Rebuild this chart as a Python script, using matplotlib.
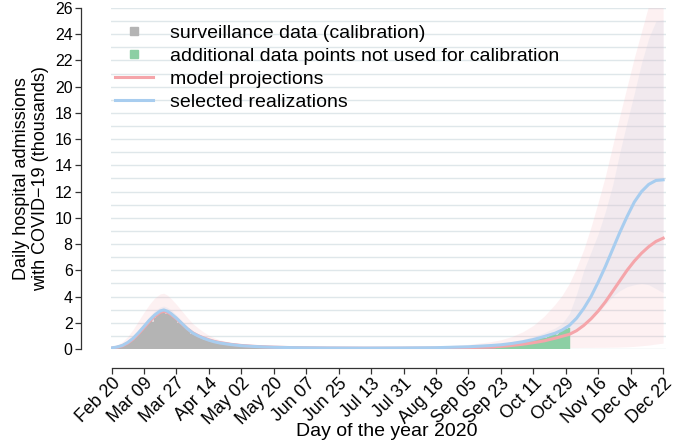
import matplotlib
matplotlib.use("Agg")
import matplotlib.pyplot as plt
import matplotlib.dates as mdates
from matplotlib.lines import Line2D
from matplotlib.ticker import MultipleLocator
import pandas as pd

plt.rcParams['font.family'] = ['Liberation Sans', 'DejaVu Sans']

start = pd.Timestamp('2020-02-20')

# model curves, read every few days (day offset from Feb 20)
curve_day = [0, 3, 6, 9, 12, 15, 18, 21, 24, 27, 29, 31, 33, 36, 39, 42, 45, 48, 51, 54,
             57, 60, 66, 72, 78, 84, 90, 102, 120, 140, 160, 180, 198, 210, 216, 222, 228, 234, 240, 246,
             250, 254, 258, 262, 266, 270, 274, 278, 282, 286, 290, 294, 298, 302, 306]
realization = [0.08, 0.15, 0.27, 0.5, 0.82, 1.25, 1.72, 2.2, 2.6, 2.9,
               2.98, 2.88, 2.7, 2.35, 1.95, 1.55, 1.22, 1.0, 0.82, 0.67,
               0.55, 0.46, 0.34, 0.25, 0.2, 0.16, 0.13, 0.1, 0.08, 0.07,
               0.08, 0.1, 0.17, 0.26, 0.32, 0.42, 0.55, 0.72, 0.95, 1.2,
               1.45, 1.8, 2.35, 3.1, 4.0, 5.1, 6.3, 7.6, 8.9, 10.1,
               11.2, 12.0, 12.55, 12.85, 12.9]
projection = [0.07, 0.13, 0.24, 0.45, 0.76, 1.17, 1.63, 2.1, 2.5, 2.8,
              2.88, 2.8, 2.63, 2.3, 1.92, 1.55, 1.24, 1.02, 0.85, 0.7,
              0.58, 0.49, 0.36, 0.27, 0.21, 0.17, 0.14, 0.1, 0.07, 0.06,
              0.06, 0.07, 0.11, 0.16, 0.2, 0.27, 0.36, 0.48, 0.62, 0.82,
              0.97, 1.12, 1.4, 1.8, 2.3, 2.9, 3.6, 4.4, 5.2, 6.0,
              6.7, 7.3, 7.8, 8.2, 8.45]
proj_high = [0.15, 0.3, 0.55, 0.95, 1.5, 2.15, 2.8, 3.4, 3.9, 4.2,
             4.25, 4.1, 3.85, 3.4, 2.9, 2.4, 1.95, 1.6, 1.3, 1.05,
             0.85, 0.7, 0.5, 0.36, 0.28, 0.22, 0.18, 0.14, 0.12, 0.12,
             0.14, 0.2, 0.35, 0.55, 0.7, 0.95, 1.3, 1.8, 2.5, 3.4,
             4.1, 5.0, 6.2, 7.6, 9.3, 11.2, 13.2, 15.5, 17.8, 20.0,
             22.2, 24.2, 26.2, 28.0, 29.5]
proj_low = [0.02, 0.04, 0.08, 0.15, 0.28, 0.45, 0.68, 0.9, 1.1, 1.25,
            1.3, 1.28, 1.2, 1.05, 0.88, 0.7, 0.56, 0.45, 0.37, 0.3,
            0.25, 0.21, 0.15, 0.11, 0.08, 0.06, 0.05, 0.03, 0.02, 0.02,
            0.02, 0.02, 0.03, 0.04, 0.05, 0.06, 0.07, 0.08, 0.09, 0.1,
            0.1, 0.11, 0.11, 0.12, 0.12, 0.13, 0.13, 0.14, 0.15, 0.17,
            0.2, 0.25, 0.3, 0.38, 0.45]
real_high = [0.1, 0.18, 0.32, 0.58, 0.95, 1.42, 1.95, 2.48, 2.9, 3.2,
             3.28, 3.17, 2.98, 2.6, 2.16, 1.72, 1.36, 1.12, 0.92, 0.75,
             0.62, 0.52, 0.38, 0.28, 0.22, 0.18, 0.15, 0.12, 0.1, 0.09,
             0.1, 0.13, 0.22, 0.34, 0.42, 0.55, 0.72, 0.95, 1.25, 1.6,
             1.95, 2.7, 4.2, 6.0, 7.4, 8.8, 10.5, 12.5, 15.0, 17.3,
             19.5, 21.8, 23.7, 25.0, 25.1]
real_low = [0.06, 0.12, 0.22, 0.42, 0.7, 1.08, 1.5, 1.93, 2.3, 2.6,
            2.68, 2.59, 2.42, 2.1, 1.75, 1.38, 1.08, 0.88, 0.72, 0.59,
            0.48, 0.4, 0.3, 0.22, 0.18, 0.14, 0.11, 0.08, 0.06, 0.05,
            0.06, 0.07, 0.12, 0.18, 0.22, 0.3, 0.4, 0.52, 0.68, 0.85,
            1.0, 1.3, 1.6, 1.95, 2.3, 2.8, 3.4, 4.0, 4.45, 4.75,
            4.9, 5.0, 4.9, 4.6, 4.3]

# daily surveillance data (thousands), calibration part starts Feb 22
surv_feb = [0.1, 0.12, 0.15, 0.18, 0.22, 0.28, 0.35, 0.42]
surv_mar = [0.5, 0.6, 0.72, 0.85, 0.98, 1.12, 1.28, 1.45, 1.6, 1.75, 1.9, 2.05, 2.2, 2.05, 2.4, 2.55,
            2.65, 2.75, 2.85, 2.9, 2.65, 2.75, 2.8, 2.65, 2.55, 2.45, 2.3, 2.0, 2.05, 1.9, 1.75]
surv_apr = [1.62, 1.5, 1.4, 1.18, 1.15, 1.12, 1.05, 0.97, 0.9, 0.84, 0.72, 0.72, 0.7, 0.65, 0.6,
            0.56, 0.52, 0.45, 0.45, 0.44, 0.42, 0.4, 0.38, 0.36, 0.31, 0.31, 0.32, 0.3, 0.29, 0.28]
surv_may = [0.27, 0.23, 0.23, 0.25, 0.24, 0.23, 0.22, 0.21, 0.18, 0.18, 0.2, 0.19, 0.18, 0.17, 0.16, 0.14,
            0.14, 0.15, 0.14, 0.14, 0.13, 0.13, 0.11, 0.11, 0.12, 0.12, 0.11, 0.11, 0.1, 0.09, 0.09]
surv_jun = [0.1, 0.1, 0.09, 0.09, 0.09, 0.08, 0.08, 0.09, 0.09, 0.08, 0.08, 0.08, 0.07, 0.07, 0.08,
            0.08, 0.08, 0.07, 0.07, 0.07, 0.06, 0.07, 0.07, 0.07, 0.07, 0.06, 0.06, 0.06, 0.07, 0.07]
surv_jul = [0.07, 0.07, 0.06, 0.06, 0.06, 0.07, 0.07, 0.07, 0.07, 0.06, 0.06, 0.07, 0.07, 0.07, 0.07, 0.07,
            0.06, 0.06, 0.07, 0.07, 0.07, 0.07, 0.07, 0.06, 0.06, 0.07, 0.07, 0.07, 0.08, 0.08, 0.07]
surv_aug = [0.07, 0.07, 0.08, 0.08, 0.08, 0.08, 0.08, 0.07, 0.07, 0.08, 0.08, 0.09, 0.09, 0.09, 0.08, 0.08,
            0.09, 0.09, 0.09, 0.1, 0.1, 0.09, 0.09, 0.1, 0.1, 0.11, 0.11, 0.11, 0.1, 0.1, 0.11]
surv_sep = [0.12, 0.12, 0.13, 0.13, 0.12, 0.12, 0.14, 0.15, 0.15, 0.16, 0.16, 0.15, 0.15, 0.18, 0.19,
            0.2, 0.21, 0.21, 0.2, 0.21]
# additional points, Sep 21 - Oct 31
extra = [0.28, 0.27, 0.3, 0.32, 0.33, 0.31, 0.31, 0.37, 0.4, 0.42,
         0.44, 0.45, 0.42, 0.42, 0.5, 0.55, 0.58, 0.6, 0.62, 0.6,
         0.6, 0.68, 0.75, 0.8, 0.82, 0.85, 0.82, 0.85, 0.95, 1.02,
         1.08, 1.12, 1.15, 1.1, 1.12, 1.28, 1.38, 1.45, 1.5, 1.55, 1.6]

surv = surv_feb + surv_mar + surv_apr + surv_may + surv_jun + surv_jul + surv_aug + surv_sep
surv_dates = pd.date_range('2020-02-22', periods=len(surv), freq='D')
extra_dates = pd.date_range('2020-09-21', periods=len(extra), freq='D')
curve_dates = start + pd.to_timedelta(curve_day, unit='D')
tick_dates = pd.date_range('2020-02-20', '2020-12-22', freq='18D')

c_grey = '#b4b4b4'
c_green = '#8ccfa4'
c_red = '#f5a5aa'
c_blue = '#a8cdef'

fig = plt.figure(figsize=(6.77, 4.44), dpi=100)
ax = fig.add_axes([111 / 677, 95 / 444, 555 / 677, 341 / 444])

ax.fill_between(curve_dates, proj_low, proj_high, color='#f8a8b0', alpha=0.16, linewidth=0)
ax.fill_between(curve_dates, real_low, real_high, color='#c8d0e4', alpha=0.22, linewidth=0)
ax.bar(surv_dates, surv, width=1.0, color=c_grey, linewidth=0.3, edgecolor=c_grey)
ax.bar(extra_dates, extra, width=1.0, color=c_green, linewidth=0.3, edgecolor=c_green)
ax.plot(curve_dates, projection, color=c_red, lw=2.2)
ax.plot(curve_dates, realization, color=c_blue, lw=2.2)

ax.set_xlim(start - pd.Timedelta(days=0.3), start + pd.Timedelta(days=307.6))
ax.set_ylim(0, 26)
ax.set_xticks(tick_dates)
ax.xaxis.set_major_formatter(mdates.DateFormatter('%b %d'))
ax.yaxis.set_major_locator(MultipleLocator(2))
ax.yaxis.set_minor_locator(MultipleLocator(1))
ax.grid(axis='y', which='both', color='#dfe7ea', lw=1.0)
ax.set_axisbelow(True)

for s in ['top', 'right']:
    ax.spines[s].set_visible(False)
ax.spines['left'].set_position(('outward', 21.6))
ax.spines['bottom'].set_position(('outward', 13.7))
ax.spines['left'].set_bounds(0, 26)
ax.spines['bottom'].set_bounds(mdates.date2num(tick_dates[0]), mdates.date2num(tick_dates[-1]))
for s in ['left', 'bottom']:
    ax.spines[s].set_color('#333333')
    ax.spines[s].set_linewidth(0.9)
ax.tick_params(axis='y', which='major', length=4, width=0.9, color='#333333', labelsize=11.5, pad=2)
ax.tick_params(axis='y', which='minor', length=0)
ax.tick_params(axis='x', length=4, width=0.9, color='#333333', labelsize=12.8, pad=1)
plt.setp(ax.get_xticklabels(), rotation=45, ha='right', rotation_mode='anchor')

ax.set_xlabel('Day of the year 2020', fontsize=14)
ax.xaxis.set_label_coords(0.497, -0.218)
ax.set_ylabel('Daily hospital admissions\nwith COVID\u221219 (thousands)', fontsize=13, labelpad=4)

handles = [
    Line2D([], [], ls='none', marker='s', ms=6, color=c_grey),
    Line2D([], [], ls='none', marker='s', ms=6, color=c_green),
    Line2D([], [], color=c_red, lw=2.2),
    Line2D([], [], color=c_blue, lw=2.2),
]
labels = ['surveillance data (calibration)',
          'additional data points not used for calibration',
          'model projections',
          'selected realizations']
ax.legend(handles, labels, loc='upper left', bbox_to_anchor=(0.007, 0.953), frameon=False,
          fontsize=14, handlelength=1.96, handletextpad=0.88, labelspacing=0.28,
          borderpad=0, borderaxespad=0)

fig.savefig('out.png', dpi=100)
